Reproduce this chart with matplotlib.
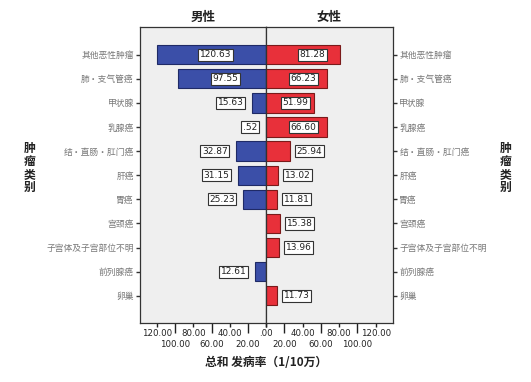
import numpy as np
import matplotlib
matplotlib.use("Agg")
import matplotlib.pyplot as plt
from matplotlib.ticker import FixedLocator, FuncFormatter

plt.rcParams['font.family'] = ['Noto Sans CJK SC', 'DejaVu Sans']

categories = ["其他恶性肿瘤", "肺・支气管癌", "甲状腺", "乳腺癌", "结・直肠・肛门癌",
              "肝癌", "胃癌", "宫颈癌", "子宫体及子宫部位不明", "前列腺癌", "卵巢"]
male = [120.63, 97.55, 15.63, 0.52, 32.87, 31.15, 25.23, np.nan, np.nan, 12.61, np.nan]
female = [81.28, 66.23, 51.99, 66.60, 25.94, 13.02, 11.81, 15.38, 13.96, np.nan, 11.73]
male_labels = ["120.63", "97.55", "15.63", ".52", "32.87", "31.15", "25.23", "", "", "12.61", ""]
female_labels = ["81.28", "66.23", "51.99", "66.60", "25.94", "13.02", "11.81", "15.38", "13.96", "", "11.73"]
major_ticks = [0, 40, 80, 120]
minor_ticks = [20, 60, 100]
title_left = "男性"
title_right = "女性"
ylabel = "肿瘤类别"
xlabel = "总和 发病率（1/10万）"

W, H = 531, 382
fig = plt.figure(figsize=(W / 100, H / 100), dpi=100)
fig.patch.set_facecolor('white')

y0 = 1 - 323 / H
h = (323 - 27) / H
axL = fig.add_axes([140 / W, y0, (266 - 140) / W, h])
axR = fig.add_axes([266 / W, y0, (393 - 266) / W, h], sharey=axL)

blue = '#3b4fa8'
blue_edge = '#1f2a66'
red = '#e8303a'
red_edge = '#7a1a1a'
bg = '#efefef'
xmax = 139
n = len(categories)
ypos = np.arange(n)

def fmt(v, pos=None):
    return '.00' if v == 0 else f'{v:.2f}'

def fmt_left(v, pos=None):
    return '' if v == 0 else f'{v:.2f}'

for ax, f in ((axL, fmt_left), (axR, fmt)):
    ax.set_facecolor(bg)
    ax.set_xlim(0, xmax)
    for s in ax.spines.values():
        s.set_color('#333333')
        s.set_linewidth(0.9)
    ax.xaxis.set_major_locator(FixedLocator(major_ticks))
    ax.xaxis.set_minor_locator(FixedLocator(minor_ticks))
    ax.xaxis.set_major_formatter(FuncFormatter(f))
    ax.xaxis.set_minor_formatter(FuncFormatter(fmt))
    ax.tick_params(axis='x', which='major', length=3, width=1, pad=1.0,
                   labelsize=6.2, colors='#222222')
    ax.tick_params(axis='x', which='minor', length=7.5, width=1, pad=5.0,
                   labelsize=6.2, colors='#222222')
    for lab in ax.get_xticklabels(which='both'):
        lab.set_family('DejaVu Sans')

axL.set_xlim(xmax, 0)
axL.set_ylim(n - 1 + 1.13, -1.15)

axL.barh(ypos, male, height=0.8, color=blue, edgecolor=blue_edge, linewidth=0.8)
axR.barh(ypos, female, height=0.8, color=red, edgecolor=red_edge, linewidth=0.8)

box = dict(boxstyle='square,pad=0.18', facecolor='white', edgecolor='#333333', linewidth=0.8)
for i, (v, lab) in enumerate(zip(male, male_labels)):
    if np.isnan(v):
        continue
    if v > 40:
        axL.text(v * 0.46, i, lab, ha='center', va='center', fontsize=6.5,
                 family='DejaVu Sans', bbox=box, color='#222222')
    else:
        axL.annotate(lab, (v, i), xytext=(-6, 0), textcoords='offset points',
                     ha='right', va='center', fontsize=6.5, family='DejaVu Sans',
                     bbox=box, color='#222222')
for i, (v, lab) in enumerate(zip(female, female_labels)):
    if np.isnan(v):
        continue
    if v > 40:
        axR.text(v * 0.62, i, lab, ha='center', va='center', fontsize=6.5,
                 family='DejaVu Sans', bbox=box, color='#222222')
    else:
        axR.annotate(lab, (v, i), xytext=(5, 0), textcoords='offset points',
                     ha='left', va='center', fontsize=6.5, family='DejaVu Sans',
                     bbox=box, color='#222222')

axL.set_yticks(ypos)
axL.set_yticklabels(categories)
axL.tick_params(axis='y', length=3, width=1, pad=1.5, labelsize=6.3,
                colors='#333333', labelcolor='#777777')
axR.tick_params(axis='y', left=False, right=True, labelleft=False, labelright=True,
                length=3, width=1, pad=1.5, labelsize=6.3, colors='#333333',
                labelcolor='#777777')

axL.set_title(title_left, fontsize=9, fontweight='bold', pad=4, color='#222222')
axR.set_title(title_right, fontsize=9, fontweight='bold', pad=4, color='#222222')

vlab = "\n".join(ylabel)
fig.text(30 / W, 1 - 168 / H, vlab, ha='center', va='center', fontsize=8.5,
         fontweight='bold', linespacing=1.0, color='#222222')
fig.text(506 / W, 1 - 168 / H, vlab, ha='center', va='center', fontsize=8.5,
         fontweight='bold', linespacing=1.0, color='#222222')
fig.text(266 / W, 1 - 363 / H, xlabel, ha='center', va='center', fontsize=8.5,
         fontweight='bold', color='#222222')

fig.savefig('out.png', dpi=100, facecolor='white')
